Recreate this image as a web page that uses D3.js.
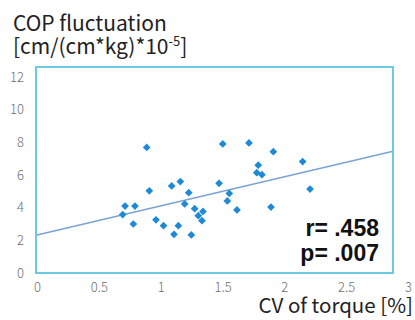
<!DOCTYPE html>
<html>
<head>
<meta charset="utf-8">
<script src="https://cdn.jsdelivr.net/npm/d3@7"></script>
<style>
  html, body { margin: 0; padding: 0; background: #fff; }
  svg { display: block; }
</style>
</head>
<body>
<svg id="chart" width="415" height="320"></svg>
<script>
// values
const cvTorque = [0.887, 1.502, 1.714, 1.911, 2.148, 1.789, 1.777, 1.819, 1.472, 2.208,
  1.159, 1.089, 0.908, 1.227, 1.555, 1.539, 1.194, 1.617, 1.892, 0.712,
  0.792, 0.693, 1.275, 1.342, 1.304, 1.334, 0.962, 0.779, 1.023, 1.143,
  1.108, 1.248];
const copFluct = [7.69, 7.90, 7.96, 7.43, 6.82, 6.60, 6.14, 6.02, 5.49, 5.14,
  5.60, 5.33, 5.03, 4.92, 4.87, 4.41, 4.23, 3.86, 4.04, 4.10,
  4.10, 3.58, 3.94, 3.77, 3.51, 3.20, 3.26, 3.00, 2.90, 2.90,
  2.37, 2.33];
const trendX = [0, 2.87];
const trendY = [2.33, 7.44];
const xTicks = [0, 0.5, 1, 1.5, 2, 2.5, 3];
const yTicks = [0, 2, 4, 6, 8, 10, 12];
const statLines = ['r= .458', 'p= .007'];

const svg = d3.select('#chart');

const x = d3.scaleLinear().domain([0, 3]).range([37, 408]);
const y = d3.scaleLinear().domain([0, 12]).range([273, 77]);

const tickFont = '"Noto Sans CJK JP", "Noto Sans", sans-serif';

// plot frame
svg.append('rect')
  .attr('x', 36).attr('y', 67)
  .attr('width', 357).attr('height', 206)
  .attr('fill', 'none')
  .attr('stroke', '#5cc6e0')
  .attr('stroke-width', 1.8);

// y axis labels
const yAxis = d3.axisLeft(y)
  .tickValues(yTicks)
  .tickSize(0)
  .tickPadding(12)
  .tickFormat(d3.format('d'));
const gy = svg.append('g').attr('transform', 'translate(36,0)').call(yAxis);
gy.select('.domain').remove();
gy.selectAll('text')
  .attr('font-family', tickFont)
  .attr('font-size', 13)
  .attr('font-weight', 300)
  .attr('fill', '#6e6e6e');

// x axis labels
const xAxis = d3.axisBottom(x)
  .tickValues(xTicks)
  .tickSize(0)
  .tickPadding(10)
  .tickFormat(d => d);
const gx = svg.append('g').attr('transform', 'translate(0,273)').call(xAxis);
gx.select('.domain').remove();
gx.selectAll('text')
  .attr('font-family', tickFont)
  .attr('font-size', 13)
  .attr('font-weight', 300)
  .attr('fill', '#6e6e6e');

// trend line
const line = d3.line().x(d => x(d[0])).y(d => y(d[1]));
svg.append('path')
  .attr('d', line(d3.zip(trendX, trendY)))
  .attr('fill', 'none')
  .attr('stroke', '#7ba3d4')
  .attr('stroke-width', 1.6);

// points
const diamond = d3.symbol().type(d3.symbolSquare).size(30);
svg.append('g').selectAll('path')
  .data(d3.zip(cvTorque, copFluct))
  .join('path')
  .attr('d', diamond)
  .attr('transform', d => `translate(${x(d[0])},${y(d[1])}) rotate(45)`)
  .attr('fill', '#1e8ad6');

// stats
svg.append('g').selectAll('text')
  .data(statLines)
  .join('text')
  .attr('x', 379)
  .attr('y', (d, i) => 236 + i * 25)
  .attr('text-anchor', 'end')
  .attr('font-family', '"Liberation Sans", Arial, sans-serif')
  .attr('font-weight', 'bold')
  .attr('font-size', 23)
  .attr('fill', '#111')
  .text(d => d);

// y title
const titleFont = '"Noto Sans CJK JP", "Noto Sans", sans-serif';
svg.append('text')
  .attr('x', 13).attr('y', 31)
  .attr('font-family', titleFont)
  .attr('font-size', 21)
  .attr('fill', '#222')
  .text('COP fluctuation');
const t2 = svg.append('text')
  .attr('x', 13).attr('y', 54)
  .attr('font-family', titleFont)
  .attr('font-size', 21)
  .attr('fill', '#222');
t2.append('tspan').text('[cm/(cm*kg)*10');
t2.append('tspan').attr('dy', -8).attr('font-size', 13).text('-5');
t2.append('tspan').attr('dy', 8).text(']');

// x title
svg.append('text')
  .attr('x', 413).attr('y', 313)
  .attr('text-anchor', 'end')
  .attr('font-family', titleFont)
  .attr('font-size', 20.5)
  .attr('fill', '#222')
  .text('CV of torque [%]');
</script>
</body>
</html>
